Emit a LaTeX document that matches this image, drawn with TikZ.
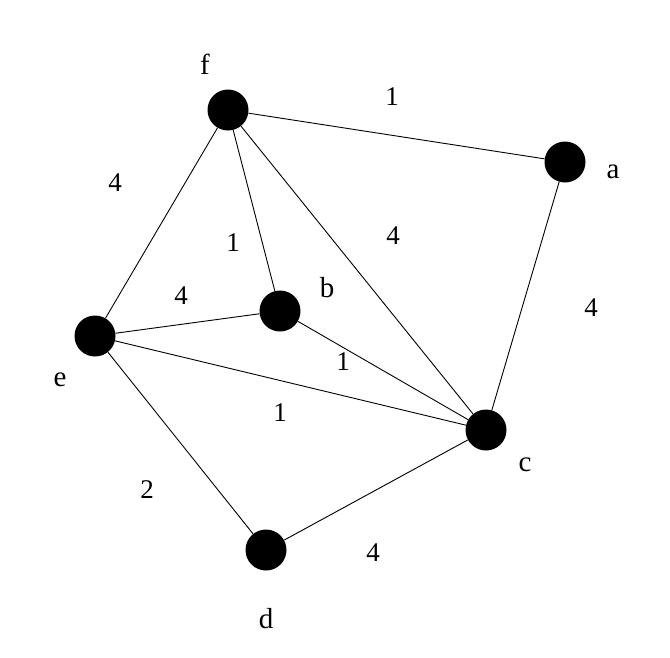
\documentclass[tikz,border=0pt]{standalone}
\usepackage{fontspec}
\setmainfont{Liberation Serif}
\begin{document}
\begin{tikzpicture}[x=1pt,y=-1pt,
  vtx/.style={circle,fill=black,inner sep=0pt,minimum size=41pt},
  lbl/.style={font=\fontsize{29}{32}\selectfont,inner sep=0pt},
  wt/.style={font=\fontsize{27}{30}\selectfont,inner sep=0pt},
  edge/.style={line width=0.9pt}]
\useasboundingbox (0,0) rectangle (670,657);
\node[vtx] (f) at (228,110) {};
\node[vtx] (a) at (565,162) {};
\node[vtx] (b) at (280,311) {};
\node[vtx] (e) at (95,336) {};
\node[vtx] (c) at (486,430) {};
\node[vtx] (d) at (266,550) {};
\draw[edge] (f) -- (a);
\draw[edge] (f) -- (e);
\draw[edge] (f) -- (b);
\draw[edge] (f) -- (c);
\draw[edge] (e) -- (b);
\draw[edge] (b) -- (c);
\draw[edge] (e) -- (c);
\draw[edge] (a) -- (c);
\draw[edge] (e) -- (d);
\draw[edge] (d) -- (c);
\node[lbl,anchor=base] (lf) at (205,74) {f};
\node[lbl,anchor=base] (la) at (613,178) {a};
\node[lbl,anchor=base] (lb) at (327,297) {b};
\node[lbl,anchor=base] (le) at (60,386) {e};
\node[lbl,anchor=base] (lc) at (525,471) {c};
\node[lbl,anchor=base] (ld) at (266,628) {d};
\node[wt] (w1) at (392,97) {1};
\node[wt] (w2) at (115,183) {4};
\node[wt] (w3) at (233,243) {1};
\node[wt] (w4) at (393,236) {4};
\node[wt] (w5) at (181,296) {4};
\node[wt] (w6) at (343,362) {1};
\node[wt] (w7) at (280,413) {1};
\node[wt] (w8) at (591,308) {4};
\node[wt] (w9) at (147,490) {2};
\node[wt] (w10) at (373,553) {4};
\end{tikzpicture}
\end{document}
